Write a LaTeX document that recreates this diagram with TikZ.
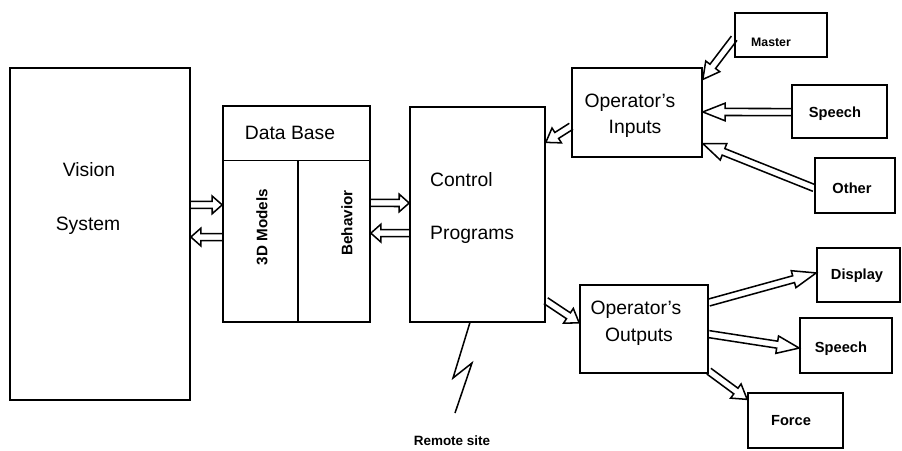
\documentclass[tikz,border=0pt]{standalone}
\usepackage{fontspec}
\setmainfont{Liberation Sans}
\usetikzlibrary{calc}
\tikzset{
  box/.style={draw, line width=1.4pt, inner sep=0pt},
  bigtxt/.style={font=\fontsize{16.5}{19}\selectfont, inner sep=0pt},
  smalltxt/.style={font=\bfseries\fontsize{12.5}{14}\selectfont, inner sep=0pt},
  rottxt/.style={font=\bfseries\fontsize{13}{15}\selectfont, inner sep=0pt, rotate=90},
  hollow/.style={line width=1.3pt, line join=miter},
}
% \harrow[head length]{from}{to}
\newcommand\harrow[3][7pt]{%
  \path ($(#3)!#1!(#2)$) coordinate (hb);
  \draw[hollow] ($(#2)!3pt!90:(#3)$) -- ($(hb)!3pt!-90:(#2)$) -- ($(hb)!7.5pt!-90:(#2)$)
     -- (#3) -- ($(hb)!7.5pt!90:(#2)$) -- ($(hb)!3pt!90:(#2)$) -- ($(#2)!3pt!-90:(#3)$);
}
\begin{document}
\begin{tikzpicture}[x=0.03cm,y=-0.03cm]
\useasboundingbox (0,0) rectangle (902,450);

% boxes
\node[box, minimum width=5.4cm, minimum height=9.96cm] (vis) at (100,234) {};
\node[box, minimum width=4.41cm, minimum height=6.48cm] (db) at (296.5,214) {};
\node[box, minimum width=4.05cm, minimum height=6.45cm] (ctrl) at (477.5,214.5) {};
\node[box, minimum width=3.9cm, minimum height=2.67cm] (inp) at (637,112.5) {};
\node[box, minimum width=2.76cm, minimum height=1.32cm] (master) at (781,35) {};
\node[box, minimum width=2.85cm, minimum height=1.59cm] (sp1) at (839.5,111.5) {};
\node[box, minimum width=2.4cm, minimum height=1.65cm] (other) at (855,185.5) {};
\node[box, minimum width=3.84cm, minimum height=2.64cm] (out) at (644,329) {};
\node[box, minimum width=2.49cm, minimum height=1.62cm] (disp) at (858.5,275) {};
\node[box, minimum width=2.76cm, minimum height=1.65cm] (sp2) at (846,345.5) {};
\node[box, minimum width=2.85cm, minimum height=1.65cm] (force) at (795.5,420.5) {};

% data base dividers
\coordinate (dbl) at ($(db.north west)!0.255!(db.south west)$);
\coordinate (dbr) at ($(db.north east)!0.255!(db.south east)$);
\draw[line width=1.4pt] (dbl) -- (dbr);
\coordinate (dvt) at ($(dbl)!0.51!(dbr)$);
\coordinate (dvb) at ($(db.south west)!0.51!(db.south east)$);
\draw[line width=1.4pt] (dvt) -- (dvb);

% texts
\node[bigtxt] (tvis1) at (89,170) {Vision};
\node[bigtxt] (tvis2) at (88,226) {System};
\node[bigtxt] (tdb) at (290,133) {Data Base};
\node[rottxt] (t3d) at (262,227) {3D Models};
\node[rottxt] (tbeh) at (347,223) {Behavior};
\node[bigtxt, anchor=west] (tc1) at (430,180) {Control};
\node[bigtxt, anchor=west] (tc2) at (430,235) {Programs};
\node[bigtxt] (ti1) at (630,103) {Operator's};
\node[bigtxt] (ti2) at (635,129) {Inputs};
\node[bigtxt] (to1) at (636,310) {Operator's};
\node[bigtxt] (to2) at (639,337) {Outputs};
\node[smalltxt, font=\bfseries\fontsize{10.5}{12}\selectfont] (tm) at (771,42) {Master};
\node[smalltxt] (ts1) at (835,114) {Speech};
\node[smalltxt] (tot) at (852,188) {Other};
\node[smalltxt] (tdi) at (857,276) {Display};
\node[smalltxt] (ts2) at (841,349) {Speech};
\node[smalltxt] (tf) at (791,421) {Force};
\node[smalltxt, font=\bfseries\fontsize{11.5}{13}\selectfont] (trs) at (452,441) {Remote site};

% arrow end points
\coordinate (a1s) at ($(vis.north east)!0.413!(vis.south east)$);
\coordinate (a1e) at ($(db.north west)!0.458!(db.south west)$);
\coordinate (a2s) at ($(db.north west)!0.606!(db.south west)$);
\coordinate (a2e) at ($(vis.north east)!0.509!(vis.south east)$);
\coordinate (a3s) at ($(db.north east)!0.449!(db.south east)$);
\coordinate (a3e) at ($(ctrl.north west)!0.447!(ctrl.south west)$);
\coordinate (a4s) at ($(ctrl.north west)!0.586!(ctrl.south west)$);
\coordinate (a4e) at ($(db.north east)!0.588!(db.south east)$);
\coordinate (a5s) at ($(inp.north west)!0.652!(inp.south west)$);
\coordinate (a5e) at ($(ctrl.north east)!0.167!(ctrl.south east)$);
\coordinate (a6s) at ($(master.north west)!0.57!(master.south west)$);
\coordinate (a6e) at ($(inp.north east)!0.135!(inp.south east)$);
\coordinate (a7s) at ($(sp1.north west)!0.51!(sp1.south west)$);
\coordinate (a7e) at ($(inp.north east)!0.494!(inp.south east)$);
\coordinate (a8s) at ($(other.north west)!0.545!(other.south west)$);
\coordinate (a8e) at ($(inp.north east)!0.843!(inp.south east)$);
\coordinate (a9s) at ($(ctrl.north east)!0.898!(ctrl.south east)$);
\coordinate (a9e) at ($(out.north west)!0.432!(out.south west)$);
\coordinate (a10s) at ($(out.north east)!0.205!(out.south east)$);
\coordinate (a10e) at ($(disp.north west)!0.463!(disp.south west)$);
\coordinate (a11s) at ($(out.north east)!0.557!(out.south east)$);
\coordinate (a11e) at ($(sp2.north west)!0.545!(sp2.south west)$);
\coordinate (a12s) at ($(out.north east)!0.97!(out.south east)$);
\coordinate (a12e) at ($(force.north west)!0.127!(force.south west)$);

% hollow arrows
\harrow[8.5pt]{a1s}{a1e}
\harrow[8.5pt]{a2s}{a2e}
\harrow[8.5pt]{a3s}{a3e}
\harrow[8.5pt]{a4s}{a4e}
\harrow[11pt]{a5s}{a5e}
\harrow[14pt]{a6s}{a6e}
\harrow[19pt]{a7s}{a7e}
\harrow[19pt]{a8s}{a8e}
\harrow[11pt]{a9s}{a9e}
\harrow[20pt]{a10s}{a10e}
\harrow[19pt]{a11s}{a11e}
\harrow[12pt]{a12s}{a12e}

% remote link
\coordinate (ls) at ($(ctrl.south west)!0.444!(ctrl.south east)$);
\coordinate (le) at (455,413);
\draw[line width=1.3pt, line join=miter] (ls) -- (453,378) -- (472,363) -- (le);
\end{tikzpicture}
\end{document}
